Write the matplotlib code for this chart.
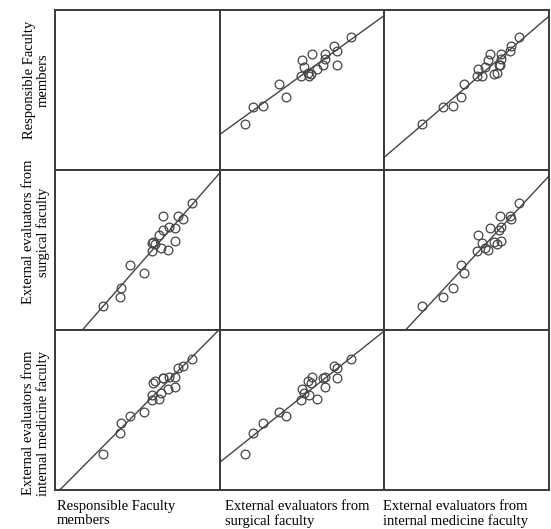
import numpy as np
import matplotlib

matplotlib.use("Agg")
import matplotlib.pyplot as plt  # noqa: E402

plt.rcParams["font.family"] = ["Liberation Serif", "DejaVu Serif"]

# scores of the same subjects rated by three groups (0-100 scale)
responsible = [28.9, 39.6, 40.2, 45.8, 54.0, 58.8, 58.8, 59.8, 60.8, 64.5,
               68.5, 62.9, 65.6, 65.6, 69.1, 72.8, 72.8, 74.6, 77.7, 83.1]
surgical = [15.2, 20.4, 26.1, 40.4, 35.8, 49.5, 54.3, 55.2, 53.7, 51.2,
            49.9, 59.4, 62.5, 71.2, 64.2, 63.8, 55.8, 71.2, 69.5, 79.6]
internal = [22.8, 35.5, 41.6, 46.5, 48.6, 56.4, 59.2, 66.6, 68.3, 60.9,
            63.0, 57.1, 69.8, 70.0, 70.8, 64.1, 70.8, 76.1, 77.2, 81.8]
labels = ["Responsible Faculty\nmembers",
          "External evaluators from\nsurgical faculty",
          "External evaluators from\ninternal medicine faculty"]

data = [np.array(responsible), np.array(surgical), np.array(internal)]
W, H = 551, 529
fig, axes = plt.subplots(3, 3, figsize=(W / 100, H / 100), dpi=100)
fig.subplots_adjust(left=55 / W, right=549 / W, bottom=1 - 490 / H, top=1 - 10 / H,
                    wspace=0, hspace=0)

xs = np.array([0, 100])
for i in range(3):
    for j in range(3):
        ax = axes[i, j]
        ax.set_xlim(0, 100); ax.set_ylim(0, 100)
        ax.set_xticks([]); ax.set_yticks([])
        for s in ax.spines.values():
            s.set_color("#3a3a3a"); s.set_linewidth(1.4)
        if i == j:
            continue
        x, y = data[j], data[i]
        k, b = np.polyfit(x, y, 1)
        ax.plot(xs, k * xs + b, color="#444444", lw=1.0)
        ax.plot(x, y, "o", mfc="none", mec="#444444", ms=6.3, mew=0.9)

# column labels under the matrix
for j, xp in enumerate([57, 225, 383]):
    fig.text(xp / W, 1 - 500 / H, labels[j], ha="left", va="top", fontsize=10.5,
             linespacing=1.1)
# row labels on the left, rotated
for i, yp in enumerate([80, 232, 423]):
    fig.text(36 / W, 1 - yp / H, labels[i], rotation=90, ha="center", va="center",
             fontsize=10.5, linespacing=1.1)

fig.savefig("out.png", dpi=100)
